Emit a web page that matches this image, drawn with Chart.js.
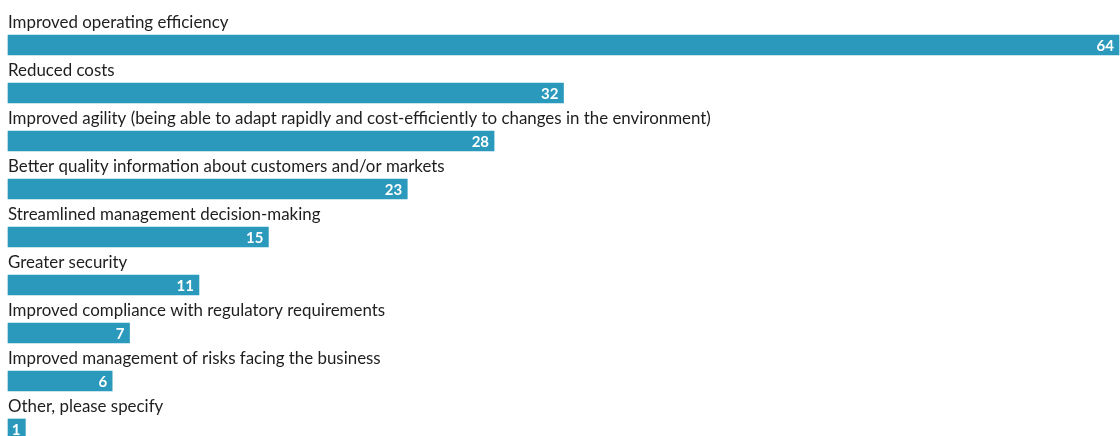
<!DOCTYPE html>
<html>
<head>
<meta charset="utf-8">
<script src="https://cdn.jsdelivr.net/npm/chart.js@4.4.0/dist/chart.umd.min.js"></script>
<style>
  html, body { margin: 0; padding: 0; background: #fff; }
  #wrap { position: relative; width: 1120px; height: 436px; }
</style>
</head>
<body>
<div id="wrap"><canvas id="benefits"></canvas></div>
<script>
const categories = [
  'Improved operating efficiency',
  'Reduced costs',
  'Improved agility (being able to adapt rapidly and cost-efficiently to changes in the environment)',
  'Better quality information about customers and/or markets',
  'Streamlined management decision-making',
  'Greater security',
  'Improved compliance with regulatory requirements',
  'Improved management of risks facing the business',
  'Other, please specify'
];
const shares = [64, 32, 28, 23, 15, 11, 7, 6, 1];

const BAR_COLOR = '#2a99bb';
const BAR_THICK = 20;

// category names sit above each bar, values go inside the bar end
const rowLabels = {
  id: 'rowLabels',
  afterDatasetsDraw(chart) {
    const ctx = chart.ctx;
    const meta = chart.getDatasetMeta(0);
    ctx.save();
    meta.data.forEach((bar, i) => {
      const top = bar.y - BAR_THICK / 2;
      ctx.fillStyle = '#1e1e1e';
      ctx.font = '16.9px Lato';
      ctx.textAlign = 'left';
      ctx.textBaseline = 'alphabetic';
      ctx.fillText(categories[i], chart.chartArea.left, top - 7);

      ctx.fillStyle = '#fff';
      ctx.font = 'bold 15px Lato';
      ctx.textAlign = 'right';
      ctx.textBaseline = 'middle';
      ctx.fillText(String(shares[i]), bar.x - 5, bar.y + 1);
    });
    ctx.restore();
  }
};

new Chart(document.getElementById('benefits'), {
  type: 'bar',
  data: {
    labels: categories,
    datasets: [{
      data: shares,
      backgroundColor: BAR_COLOR,
      borderWidth: 0,
      barThickness: BAR_THICK,
      clip: false
    }]
  },
  plugins: [rowLabels],
  options: {
    indexAxis: 'y',
    responsive: true,
    maintainAspectRatio: false,
    animation: false,
    layout: { padding: { top: 45, bottom: 7, left: 8, right: 1 } },
    plugins: {
      legend: { display: false },
      tooltip: { enabled: false }
    },
    scales: {
      x: { display: false, min: 0, max: 64 },
      y: { display: false, offset: false }
    }
  }
});
</script>
</body>
</html>
